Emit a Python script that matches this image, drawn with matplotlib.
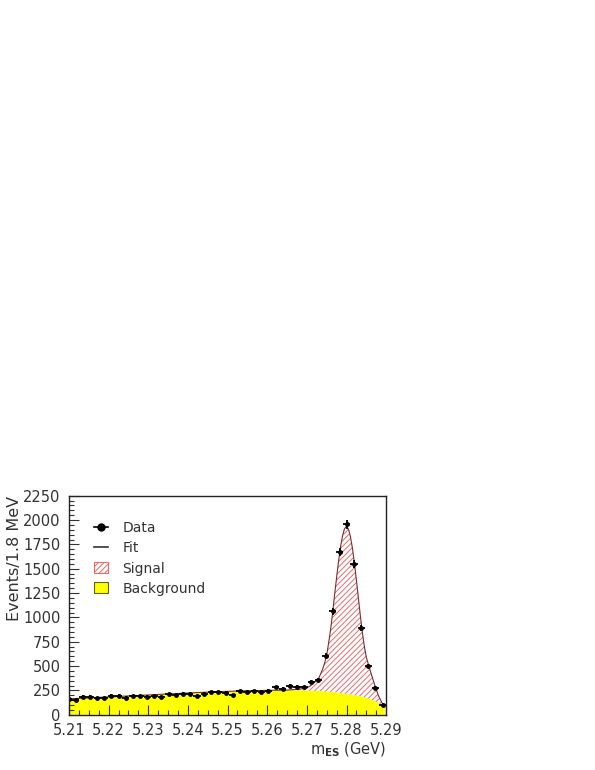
import numpy as np
import matplotlib
matplotlib.use('Agg')
import matplotlib.pyplot as plt
from matplotlib.lines import Line2D
from matplotlib.patches import Patch
from matplotlib.ticker import MultipleLocator

plt.rcParams['font.family'] = ['DejaVu Sans']
plt.rcParams['mathtext.default'] = 'regular'
plt.rcParams['hatch.linewidth'] = 0.7

# histogram binning (1.8 MeV bins)
bin_lo = 5.209
bin_width = 0.0018
n_bins = 45

# events per bin
events = [161, 154, 185, 185, 168, 168, 195, 195, 175, 192,
          192, 185, 192, 178, 212, 202, 216, 216, 192, 216,
          233, 233, 226, 202, 243, 233, 243, 230, 247, 281,
          267, 295, 288, 281, 339, 360, 606, 1062, 1675, 1955,
          1550, 890, 500, 275, 95]

# fit curve
fit_x = [5.210, 5.215, 5.220, 5.225, 5.230, 5.235, 5.240, 5.245, 5.250, 5.255,
         5.260, 5.265, 5.268, 5.270, 5.271, 5.272, 5.273, 5.274, 5.2745, 5.275,
         5.2755, 5.276, 5.2765, 5.277, 5.2775, 5.278, 5.2785, 5.279, 5.2795, 5.280,
         5.2805, 5.281, 5.2815, 5.282, 5.2825, 5.283, 5.2835, 5.284, 5.2845, 5.285,
         5.286, 5.287, 5.288, 5.289, 5.2897]
fit_bg = [163, 173, 183, 193, 203, 213, 223, 232, 240, 246,
          250, 251, 250, 248, 247, 245, 243, 240, 239, 237,
          236, 234, 232, 230, 228, 225, 222, 219, 216, 212,
          210, 207, 204, 201, 198, 194, 190, 185, 179, 173,
          160, 142, 122, 100, 82]
fit_total = [163, 173, 183, 193, 203, 213, 223, 232, 240, 246,
             250, 253, 262, 275, 300, 335, 375, 470, 535, 615,
             740, 880, 1050, 1234, 1411, 1579, 1725, 1839, 1912, 1934,
             1906, 1827, 1708, 1555, 1381, 1197, 1015, 845, 700, 590,
             450, 320, 200, 118, 90]

events = np.array(events, dtype=float)
centers = bin_lo + bin_width * (np.arange(n_bins) + 0.5)
fit_x = np.array(fit_x)
fit_bg = np.array(fit_bg, dtype=float)
fit_total = np.array(fit_total, dtype=float)

fig = plt.figure(figsize=(5.95, 7.7), dpi=100)
ax = fig.add_axes([0.116, 0.0718, 0.533, 0.2844])

# background
ax.fill_between(fit_x, 0, fit_bg, facecolor='#ffff00', edgecolor='none', lw=0)
# signal (hatched)
ax.fill_between(fit_x, fit_bg, fit_total, where=fit_total > fit_bg, interpolate=True,
                facecolor='none', edgecolor='#e86a6a', hatch='//////', lw=0)
# fit line
ax.plot(fit_x, fit_total, color='#7a2e2e', lw=0.8)

# data
ax.errorbar(centers, events, xerr=bin_width / 2, yerr=np.sqrt(events),
            fmt='o', color='k', ms=2.5, elinewidth=1.3, capsize=0)

ax.set_xlim(5.21, 5.29)
ax.set_ylim(0, 2250)
ax.xaxis.set_major_locator(MultipleLocator(0.01))
ax.xaxis.set_minor_locator(MultipleLocator(0.0025))
ax.yaxis.set_major_locator(MultipleLocator(250))
ax.yaxis.set_minor_locator(MultipleLocator(50))
ax.xaxis.set_major_formatter(plt.FormatStrFormatter('%.2f'))
ax.tick_params(which='both', direction='in', top=False, right=False,
               labelsize=10.5, colors='#333333', width=0.8)
ax.tick_params(which='major', length=7, pad=6)
ax.tick_params(which='minor', length=3.5)
for s in ax.spines.values():
    s.set_linewidth(1.0)
    s.set_color('#222222')

ax.set_xlabel('m$_{\\mathbf{ES}}$ (GeV)', fontsize=10.5, loc='right', labelpad=2,
              color='#333333')
ax.set_ylabel('Events/1.8 MeV', fontsize=11.5, loc='top', labelpad=0.5, color='#333333')

handles = [
    Line2D([], [], color='k', marker='o', ms=5, lw=1.2),
    Line2D([], [], color='#333333', lw=1.2),
    Patch(facecolor='white', edgecolor='#e86a6a', hatch='//////', lw=0.8),
    Patch(facecolor='#ffff00', edgecolor='#666600', lw=0.8),
]
labels = ['Data', 'Fit', 'Signal', 'Background']
ax.legend(handles, labels, loc='upper left', bbox_to_anchor=(0.039, 0.94),
          frameon=False, fontsize=10, handlelength=1.0, handleheight=0.85,
          labelspacing=0.44, handletextpad=1.05, labelcolor='#333333')

fig.savefig('out.png', dpi=100)
